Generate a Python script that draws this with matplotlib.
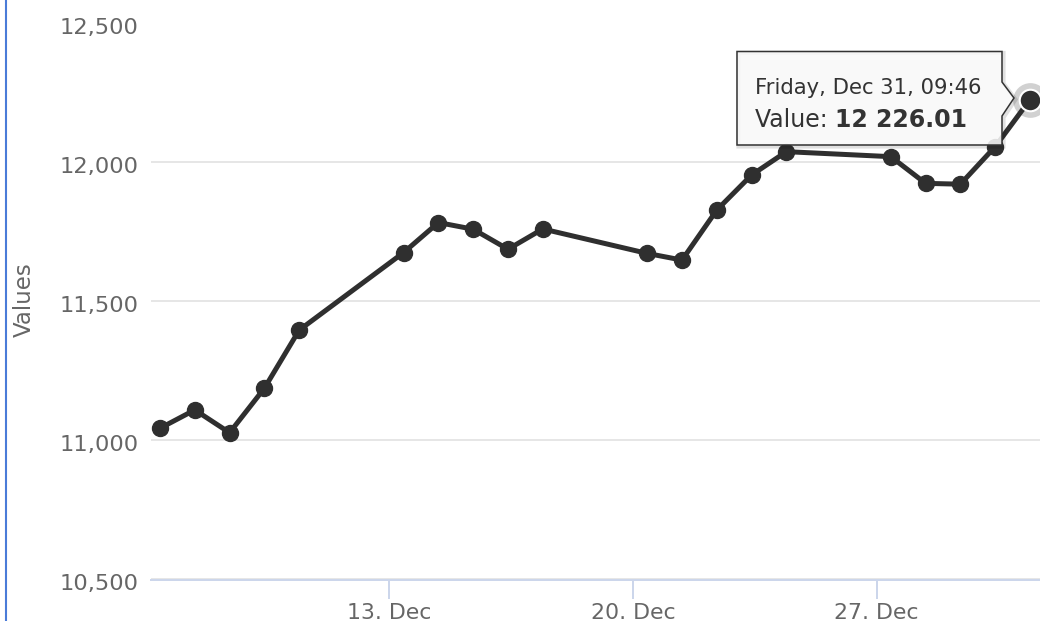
import matplotlib
matplotlib.use("Agg")
import matplotlib.pyplot as plt
import matplotlib.dates as mdates
from matplotlib.patches import Polygon
from matplotlib.lines import Line2D
from matplotlib.transforms import ScaledTranslation
from datetime import datetime

# ---- data ----
days = [6, 7, 8, 9, 10, 13, 14, 15, 16, 17, 20, 21, 22, 23, 24, 27, 28, 29, 30, 31]
values = [11044, 11110, 11028, 11188, 11397, 11676, 11784, 11760, 11688, 11761,
          11673, 11649, 11829, 11955, 12039, 12021, 11925, 11922, 12057, 12226.01]
dates = [datetime(2021, 12, d, 9, 46) for d in days]
y_ticks = [10500, 11000, 11500, 12000, 12500]
x_ticks = [datetime(2021, 12, 13), datetime(2021, 12, 20), datetime(2021, 12, 27)]
y_title = "Values"
series_name = "Value"

W, H = 1040, 621
fig = plt.figure(figsize=(W / 100, H / 100), dpi=100)
fig.patch.set_facecolor("white")

left_px, right_px, top_px, bottom_px = 151, 1040, 23.5, 579.5
ax = fig.add_axes([left_px / W, (H - bottom_px) / H,
                   (right_px - left_px) / W, (bottom_px - top_px) / H])

line_color = "#2f2f2f"
ax.plot(dates, values, color=line_color, lw=3.6, marker="o", ms=11.5,
        solid_joinstyle="round", zorder=3, clip_on=False)

# hovered last point: halo + enlarged marker with white border
ax.plot([dates[-1]], [values[-1]], marker="o", ms=25, color=line_color,
        alpha=0.22, markeredgewidth=0, zorder=4, clip_on=False)
ax.plot([dates[-1]], [values[-1]], marker="o", ms=15.5, color=line_color,
        markeredgecolor="white", markeredgewidth=1.5, zorder=5, clip_on=False)

ax.set_ylim(y_ticks[0], y_ticks[-1])
ax.set_xlim(datetime(2021, 12, 6, 3, 34), datetime(2021, 12, 31, 16, 40))
ax.set_yticks(y_ticks)
ax.set_yticklabels([f"{v:,}" for v in y_ticks])
ax.set_xticks(x_ticks)
ax.xaxis.set_major_formatter(mdates.DateFormatter("%d. %b"))

for s in ["top", "right", "left"]:
    ax.spines[s].set_visible(False)
ax.spines["bottom"].set_color("#ccd6eb")
ax.spines["bottom"].set_linewidth(1.44)
ax.spines["bottom"].set_zorder(2)

ax.grid(axis="y", color="#e6e6e6", lw=1.44, zorder=0)
ax.set_axisbelow(True)
ax.tick_params(axis="y", length=0, pad=9, labelsize=16.2, labelcolor="#666666")
ax.tick_params(axis="x", length=13.7, width=1.44, color="#ccd6eb", pad=3,
               labelsize=15.8, labelcolor="#666666")
for lab in ax.get_yticklabels():
    lab.set_transform(lab.get_transform() + ScaledTranslation(0, -3 / 100, fig.dpi_scale_trans))

fig.text(24 / W, 1 - 300 / H, y_title, rotation=90, ha="center", va="center",
         fontsize=16.5, color="#666666")

# left blue frame line
fig.add_artist(Line2D([6 / W, 6 / W], [0, 1], color="#4a7bd8", lw=1.5,
                      transform=fig.transFigure))

# ---- tooltip (pixel coordinates, y measured from top) ----
def fp(x, y):
    return (x, H - y)

outline = [fp(737, 51.5), fp(1002, 51.5), fp(1002, 82), fp(1014, 98),
           fp(1002, 116), fp(1002, 145), fp(737, 145)]
shadow = [(x + 1.5, y - 1.5) for x, y in outline]
fig.patches.append(Polygon(shadow, closed=True, transform=None, facecolor="none",
                           edgecolor=(0, 0, 0, 0.12), lw=3, zorder=8))
fig.patches.append(Polygon(outline, closed=True, transform=None,
                           facecolor=(0.975, 0.975, 0.975, 0.88),
                           edgecolor="#333333", lw=1.1, zorder=9,
                           joinstyle="miter"))

header = dates[-1].strftime("%A, %b %d, %H:%M")
fig.text(755, H - 93.5, header, transform=None, fontsize=15.2, color="#333333",
         va="baseline", ha="left", zorder=10)
t1 = fig.text(755, H - 127, f"{series_name}: ", transform=None, fontsize=17,
              color="#333333", va="baseline", ha="left", zorder=10)
fig.canvas.draw()
x_end = t1.get_window_extent().x1
val_str = f"{values[-1]:,.2f}".replace(",", " ")
fig.text(x_end, H - 127, val_str, transform=None, fontsize=17, fontweight="bold",
         color="#333333", va="baseline", ha="left", zorder=10)

fig.savefig("out.png", dpi=100, facecolor="white")
